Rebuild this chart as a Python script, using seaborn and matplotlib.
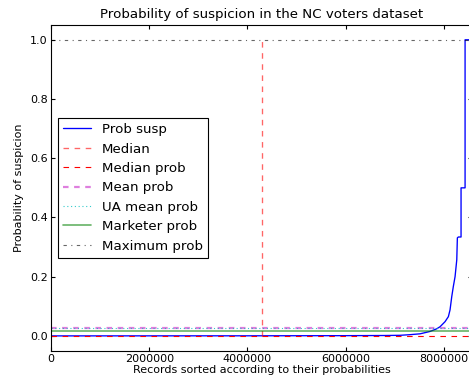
import numpy as np
import pandas as pd
import seaborn as sns
import matplotlib
matplotlib.use("Agg")
import matplotlib.pyplot as plt

# sorted probabilities of suspicion
records = [0, 4000000, 6000000, 6800000, 7108000, 7300000, 7515000, 7719000,
           7855000, 7923000, 8024000, 8092000, 8126000, 8161000, 8193000,
           8228000, 8263000, 8275000, 8295000, 8350000, 8350000, 8432000,
           8432000, 8573000]
prob_susp = [0.0, 0.0003, 0.0008, 0.0013, 0.002, 0.004, 0.007, 0.015,
             0.024, 0.031, 0.048, 0.065, 0.088, 0.133, 0.167,
             0.2, 0.257, 0.331, 0.334, 0.334, 0.5, 0.5,
             1.0, 1.0]

# summary values
n_records = 8573000
median_record = 4286500
median_prob = 0.0003
mean_prob = 0.026
ua_mean_prob = 0.027
marketer_prob = 0.015
max_prob = 1.0

sns.set_style("ticks", {"xtick.direction": "in", "ytick.direction": "in",
                        "axes.edgecolor": "black", "text.color": "black",
                        "axes.labelcolor": "black", "xtick.color": "black",
                        "ytick.color": "black"})
plt.rcParams["font.family"] = ["DejaVu Sans"]
plt.rcParams["lines.scale_dashes"] = False

fig = plt.figure(figsize=(469 / 80, 381 / 80), dpi=80)
ax = fig.add_axes([51 / 469, (381 - 350.7) / 381, 421 / 469, 325.7 / 381])

df = pd.DataFrame({"record": records, "prob": prob_susp})
sns.lineplot(data=df, x="record", y="prob", ax=ax, color="b", lw=1.2,
             estimator=None, sort=False, label="Prob susp")

ax.plot([median_record, median_record], [0, max_prob], color="r", alpha=0.6,
        lw=1.2, dashes=(5, 5), label="Median")
ax.plot([0, n_records], [median_prob, median_prob], color="r", lw=1.0,
        dashes=(5, 5), label="Median prob")
ax.plot([0, n_records], [mean_prob, mean_prob], color=(0.75, 0, 0.75), alpha=0.5,
        lw=2.0, dashes=(5, 5), label="Mean prob")
ax.plot([0, n_records], [ua_mean_prob, ua_mean_prob], color=(0, 0.75, 0.75),
        alpha=0.8, lw=1.0, dashes=(1, 2.4), label="UA mean prob")
ax.plot([0, n_records], [marketer_prob, marketer_prob], color=(0, 0.5, 0),
        alpha=0.6, lw=1.5, label="Marketer prob")
ax.plot([0, n_records], [max_prob, max_prob], color="k", alpha=0.6, lw=1.0,
        dashes=(3, 4, 1, 4), label="Maximum prob")

ax.set_xlim(0, n_records)
ax.set_ylim(-0.05, 1.05)
ax.set_xticks([0, 2000000, 4000000, 6000000, 8000000])
ax.set_yticks([0.0, 0.2, 0.4, 0.6, 0.8, 1.0])
ax.ticklabel_format(style="plain", axis="x", useOffset=False)
ax.set_yticklabels(["0.0", "0.2", "0.4", "0.6", "0.8", "1.0"])
ax.tick_params(top=True, right=True, direction="in", length=4, width=1,
               labelsize=10, pad=3, colors="black")
for s in ax.spines.values():
    s.set_linewidth(1.0)
    s.set_color("black")

ax.set_title("Probability of suspicion in the NC voters dataset", fontsize=12,
             pad=6, color="black")
ax.set_xlabel("Records sorted according to their probabilities", fontsize=10,
              labelpad=1, color="black")
ax.set_ylabel("Probability of suspicion", fontsize=10, labelpad=5, color="black")

leg = ax.legend(loc="center left", fontsize=12, fancybox=False, framealpha=1,
                edgecolor="black", labelspacing=0.48, handlelength=2.1,
                borderaxespad=0.5, labelcolor="black")
leg.get_frame().set_linewidth(1.0)

fig.savefig("out.png", dpi=80)
